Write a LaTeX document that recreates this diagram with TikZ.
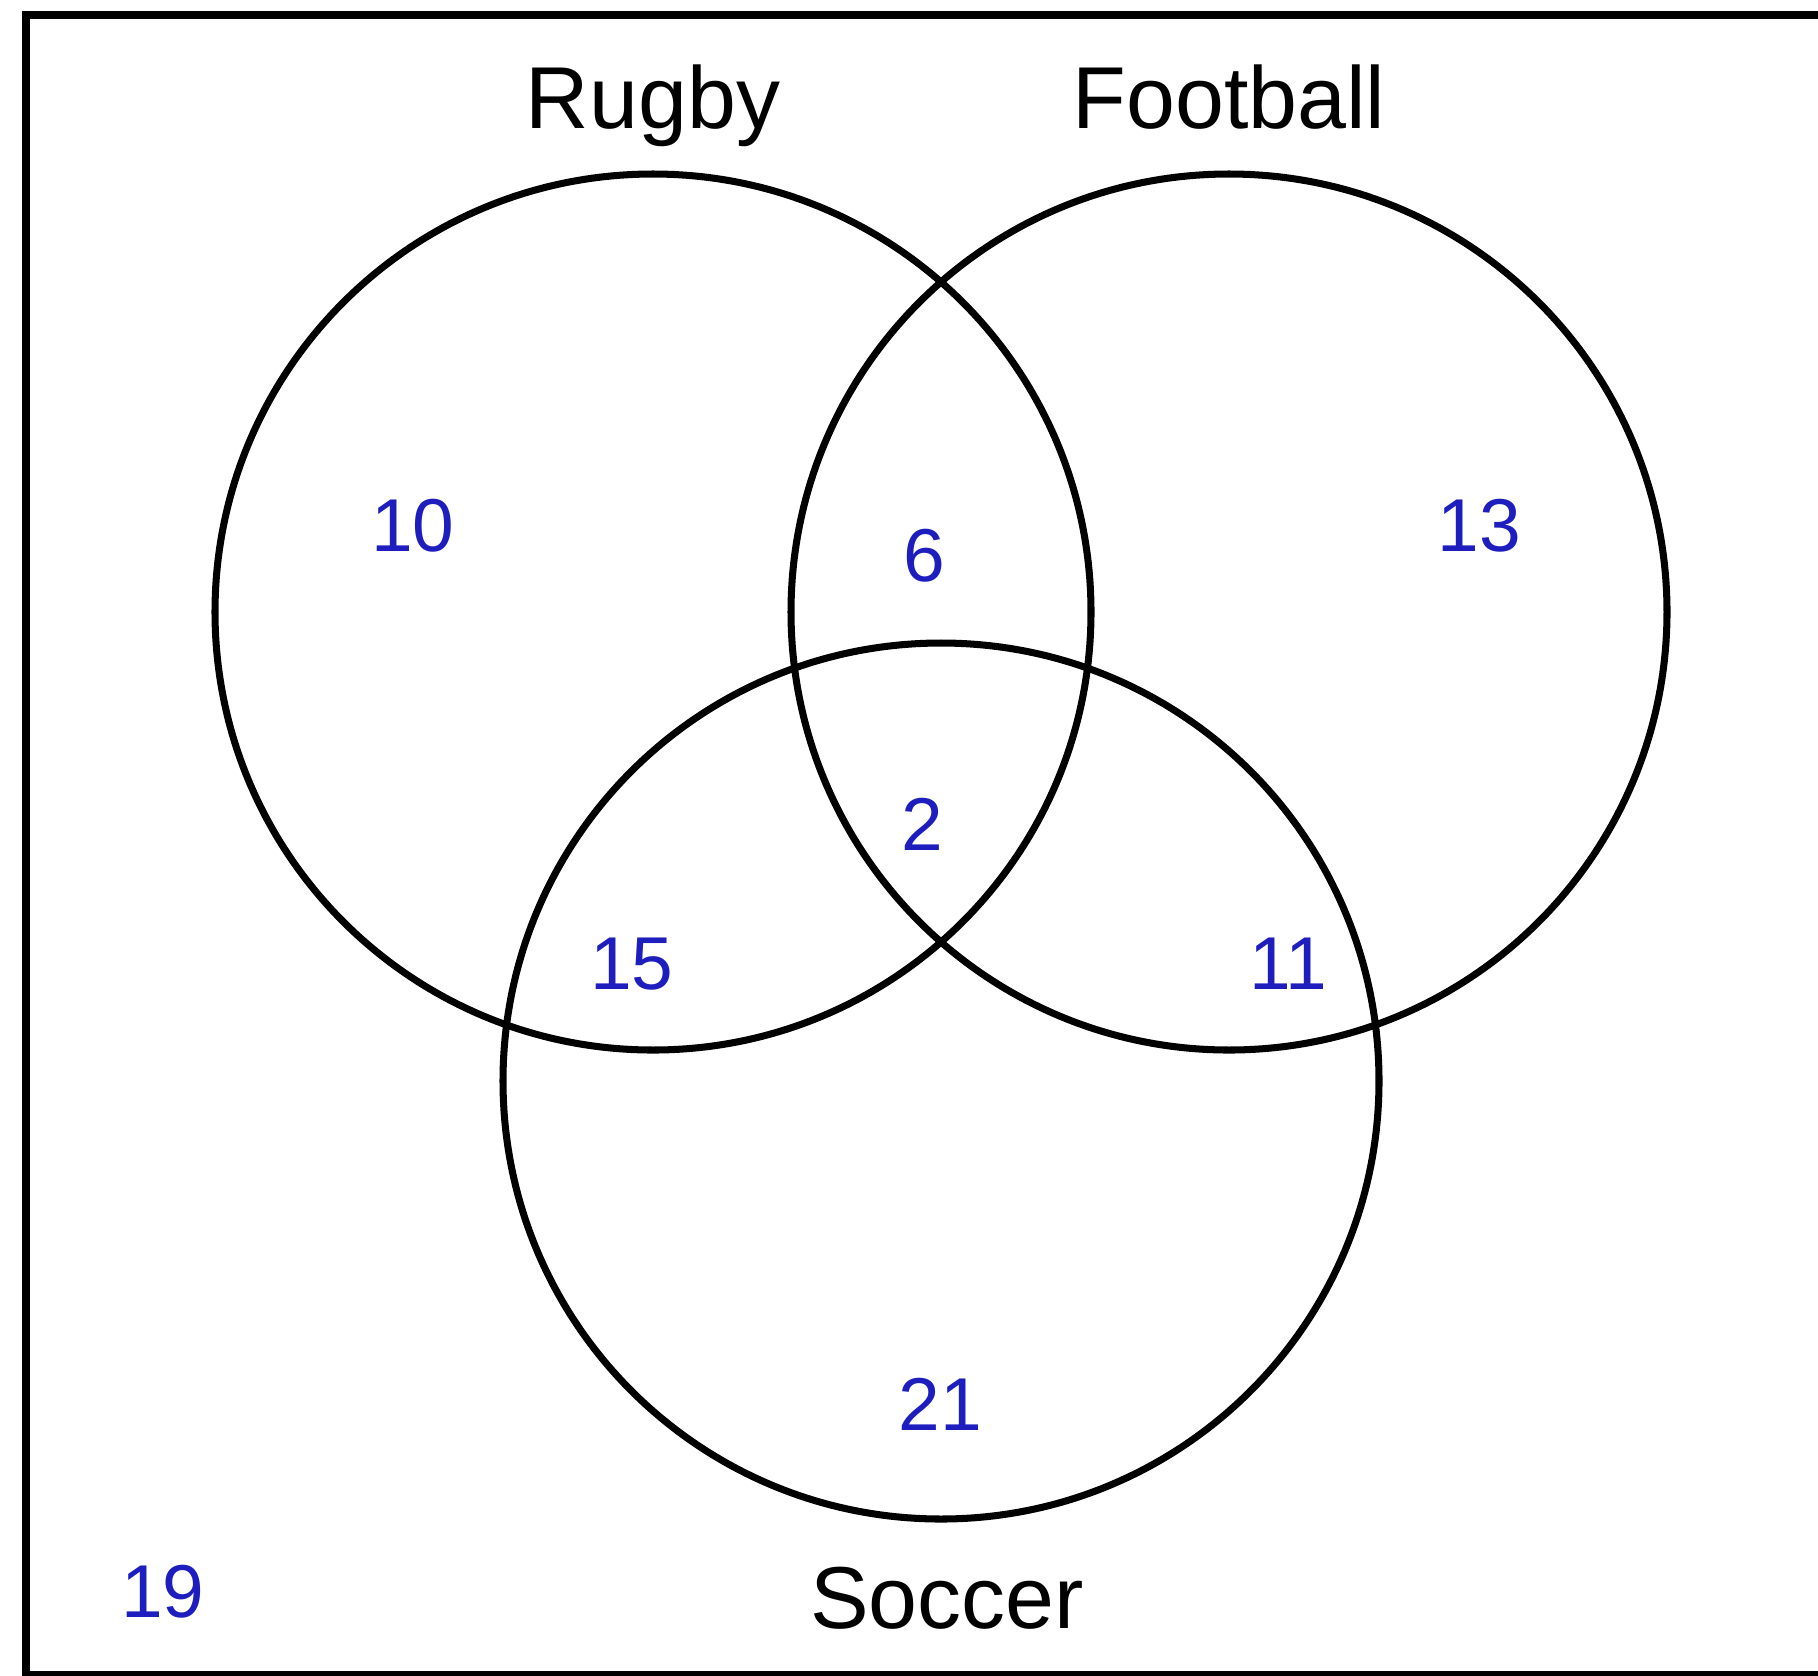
\documentclass[tikz,border=0pt]{standalone}
\usepackage{fontspec}
\setmainfont{Liberation Sans}
\definecolor{numblue}{RGB}{30,30,190}
\begin{document}
\begin{tikzpicture}[x=0.01cm,y=-0.01cm,
  setlabel/.style={anchor=base,inner sep=0pt,font=\fontsize{25}{30}\selectfont,text=black},
  count/.style={anchor=base,inner sep=0pt,font=\fontsize{21.3}{26}\selectfont,text=numblue},
  setcircle/.style={draw=black,line width=2pt}]
\useasboundingbox (0,0) rectangle (1818,1675);
\clip (0,0) rectangle (1818,1675);
\draw[line width=2.1pt] (26,15) rectangle (1840,1675);
\draw[setcircle] (653,612) circle[radius=438];
\draw[setcircle] (1229,612) circle[radius=438];
\draw[setcircle] (941,1081) circle[radius=438];
\node[setlabel] (rugby) at (653,128) {Rugby};
\node[setlabel] (football) at (1229,128) {Football};
\node[setlabel] (soccer) at (947,1628) {Soccer};
\node[count] (n10) at (413,551) {10};
\node[count] (n6) at (924,581) {6};
\node[count] (n13) at (1479,551) {13};
\node[count] (n2) at (922,850) {2};
\node[count] (n15) at (632,989) {15};
\node[count] (n11) at (1288,989) {11};
\node[count] (n21) at (940,1430) {21};
\node[count] (n19) at (163,1617) {19};
\end{tikzpicture}
\end{document}
